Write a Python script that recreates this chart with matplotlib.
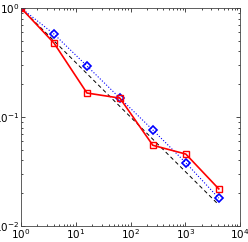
import matplotlib.pyplot as plt
import numpy as np

# sample sizes and error values
n = [1, 4, 16, 64, 256, 1024, 4096]
err_red = [1.0, 0.477, 0.166, 0.149, 0.055, 0.0457, 0.0219]
err_blue = [1.0, 0.577, 0.294, 0.149, 0.076, 0.038, 0.018]
ref_x = [1, 4096]
ref_y = [1.0, 1 / 64]

fig = plt.figure(figsize=(2.48, 2.42), dpi=100)
ax = fig.add_axes([21 / 248, 16 / 242, 219 / 248, 218 / 242])

ax.plot(ref_x, ref_y, color='black', linestyle=(0, (4, 3)), linewidth=0.7)
ax.plot(n, err_blue, color='blue', linestyle=':', linewidth=0.8,
        marker='D', markersize=4.5, markerfacecolor='none', markeredgewidth=1.2)
ax.plot(n, err_red, color='red', linestyle='-', linewidth=1.2,
        marker='s', markersize=4.5, markerfacecolor='none', markeredgewidth=1.0)

ax.set_xscale('log')
ax.set_yscale('log')
ax.set_xlim(1, 1e4)
ax.set_ylim(1e-2, 1)
ax.set_xticks([1, 10, 100, 1000, 10000])
ax.set_yticks([0.01, 0.1, 1])

ax.tick_params(which='both', direction='in', top=True, right=True,
               labelsize=7.5, width=0.5, pad=1)
ax.tick_params(which='major', length=3)
ax.tick_params(which='minor', length=1.5)
for s in ax.spines.values():
    s.set_linewidth(0.6)
    s.set_color('#444444')

fig.savefig('out.png', dpi=100)
